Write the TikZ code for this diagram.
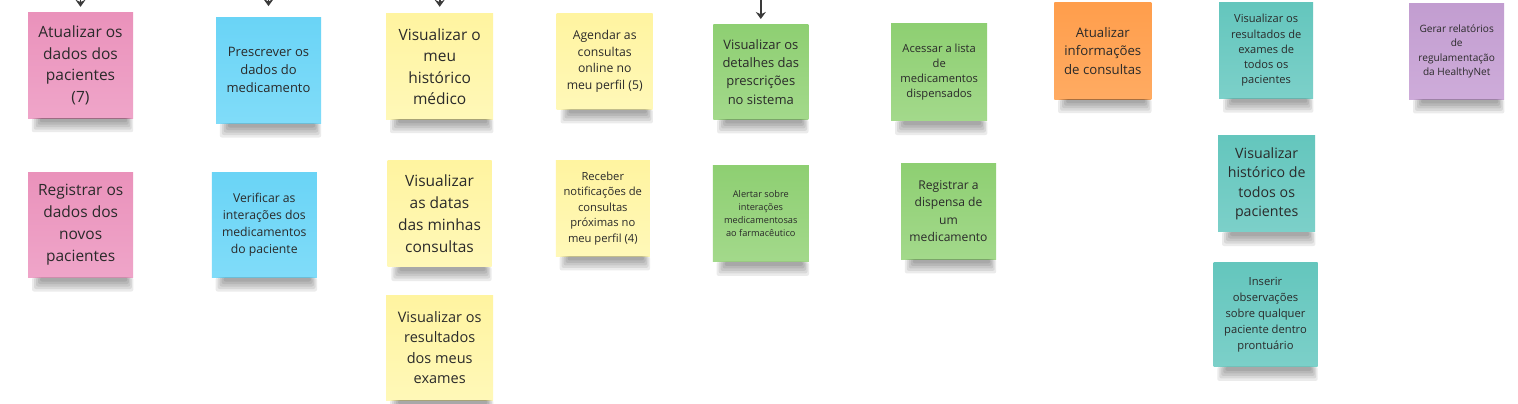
\documentclass[tikz,border=0pt]{standalone}
\usepackage{fontspec}
\setmainfont{Open Sans}
\usetikzlibrary{
    arrows.meta,
    calc
}
\definecolor{pinkA}{HTML}{EA92BB}
\definecolor{pinkB}{HTML}{EFA5C9}
\definecolor{blueA}{HTML}{6AD4F6}
\definecolor{blueB}{HTML}{80DCF9}
\definecolor{yellowA}{HTML}{FFF4A0}
\definecolor{yellowB}{HTML}{FFF8B8}
\definecolor{greenA}{HTML}{8ECF72}
\definecolor{greenB}{HTML}{A3D98B}
\definecolor{orangeA}{HTML}{FF9E4C}
\definecolor{orangeB}{HTML}{FFAB62}
\definecolor{tealA}{HTML}{64C6BD}
\definecolor{tealB}{HTML}{7CD0C9}
\definecolor{purpleA}{HTML}{C29DD0}
\definecolor{purpleB}{HTML}{CEACDA}
\definecolor{inkgray}{HTML}{2A2A2A}
\definecolor{arrowgray}{HTML}{3A3A3A}
\newcommand{\fsz}[2]{\fontsize{#1}{#2}\selectfont}

\begin{document}
\begin{tikzpicture}[x=1pt, y=-1pt, >=Stealth,
    note/.style={inner sep=0pt, minimum width=96pt, minimum height=96pt, align=center, text=inkgray},
    pinknote/.style={note, top color=pinkA, bottom color=pinkB},
    bluenote/.style={note, top color=blueA, bottom color=blueB},
    yellownote/.style={note, top color=yellowA, bottom color=yellowB},
    greennote/.style={note, top color=greenA, bottom color=greenB},
    orangenote/.style={note, top color=orangeA, bottom color=orangeB},
    tealnote/.style={note, top color=tealA, bottom color=tealB},
    purplenote/.style={note, top color=purpleA, bottom color=purpleB},
    feed/.style={-{Stealth[length=7pt, width=10pt]}, line width=1.6pt, draw=arrowgray}]
    \path[use as bounding box, clip] (0,0) rectangle (1518,404);
    \fill[white] (0,0) rectangle (1518,404);

    % first column: pink
    \node[pinknote, minimum width=105pt, minimum height=105pt, font=\fsz{15.5}{21.5}] (atualizarDados) at (80.5,65.5) {Atualizar os\\dados dos\\pacientes\\(7)};
    \node[pinknote, minimum width=105pt, minimum height=105pt, font=\fsz{15.5}{22}] (registrarDados) at (80.7,224.8) {Registrar os\\dados dos\\novos\\pacientes};

    % blue
    \node[bluenote, minimum width=105pt, minimum height=106pt, font=\fsz{13}{18}] (prescrever) at (268.5,70.3) {Prescrever os\\dados do\\medicamento};
    \node[bluenote, minimum width=105pt, minimum height=105pt, font=\fsz{12.2}{16.7}] (verificar) at (264.3,224.8) {Verificar as\\interações dos\\medicamentos\\do paciente};

    % yellow
    \node[yellownote, minimum width=107pt, minimum height=105pt, font=\fsz{15.5}{21.4}] (historico) at (439.7,66.5) {Visualizar o\\meu\\histórico\\médico};
    \node[yellownote, minimum width=104pt, minimum height=106pt, font=\fsz{15.5}{22}] (datas) at (439.5,213.8) {Visualizar\\as datas\\das minhas\\consultas};
    \node[yellownote, minimum width=107pt, minimum height=105pt, font=\fsz{14.5}{20.5}] (exames) at (439.7,347.5) {Visualizar os\\resultados\\dos meus\\exames};
    \node[yellownote, font=\fsz{12.2}{16.7}] (agendar) at (604.7,61.2) {Agendar as\\consultas\\online no\\meu perfil (5)};
    \node[yellownote, minimum width=94pt, font=\fsz{11.2}{15.5}] (notificacoes) at (602.8,208.2) {Receber\\notificações de\\consultas\\próximas no\\meu perfil (4)};

    % green
    \node[greennote, minimum width=95pt, minimum height=95pt, font=\fsz{13}{18.3}] (prescricoes) at (760.8,71.7) {Visualizar os\\detalhes das\\prescrições\\no sistema};
    \node[greennote, font=\fsz{9.2}{12.8}] (alertar) at (760.8,213.7) {Alertar sobre\\interações\\medicamentosas\\ao farmacêutico};
    \node[greennote, minimum height=97pt, font=\fsz{11.2}{15}] (acessar) at (939.2,72.3) {Acessar a lista\\de\\medicamentos\\dispensados};
    \node[greennote, minimum width=95pt, font=\fsz{12.1}{17.2}] (dispensa) at (948.5,211.2) {Registrar a\\dispensa de\\um\\medicamento};

    % orange, teal, purple
    \node[orangenote, minimum width=97pt, font=\fsz{13.2}{18.3}] (consultasInfo) at (1102.8,51) {Atualizar\\informações\\de consultas};
    \node[tealnote, minimum width=94pt, font=\fsz{11.1}{15.3}] (examesTodos) at (1266.2,50.5) {Visualizar os\\resultados de\\exames de\\todos os\\pacientes};
    \node[tealnote, minimum width=97pt, font=\fsz{14.2}{19.4}] (historicoTodos) at (1266.7,183.8) {Visualizar\\histórico de\\todos os\\pacientes};
    \node[tealnote, minimum width=104pt, minimum height=104pt, font=\fsz{11.2}{16}] (observacoes) at (1265.5,314.7) {Inserir\\observações\\sobre qualquer\\paciente dentro\\prontuário};
    \node[purplenote, minimum width=95pt, font=\fsz{10.1}{14.4}] (relatorios) at (1456.7,51.2) {Gerar relatórios\\de\\regulamentação\\da HealthyNet};

    % soft shadows under the notes
    \foreach \n in {atualizarDados, registrarDados, prescrever, verificar, historico, datas, exames,
        agendar, notificacoes, prescricoes, alertar, acessar, dispensa, consultasInfo,
        examesTodos, historicoTodos, observacoes, relatorios}
        \foreach \k in {0,...,4}
            \fill[black, fill opacity=0.08, rounded corners=2pt]
                ($(\n.south west)+(4+2*\k,0)$) rectangle ($(\n.south east)+(-1.5*\k,14-2.5*\k)$);

    % incoming arrows from above
    \coordinate (inPink) at (80.5,-10);
    \coordinate (inBlue) at (268.5,-10);
    \coordinate (inYellow) at (439.7,-10);
    \coordinate (inGreen) at (760.8,-10);
    \draw[feed, shorten >=6pt] (inPink) -- (atualizarDados.north);
    \draw[feed, shorten >=11pt] (inBlue) -- (prescrever.north);
    \draw[feed, shorten >=7pt] (inYellow) -- (historico.north);
    \draw[feed, shorten >=5pt] (inGreen) -- (prescricoes.north);
\end{tikzpicture}
\end{document}
